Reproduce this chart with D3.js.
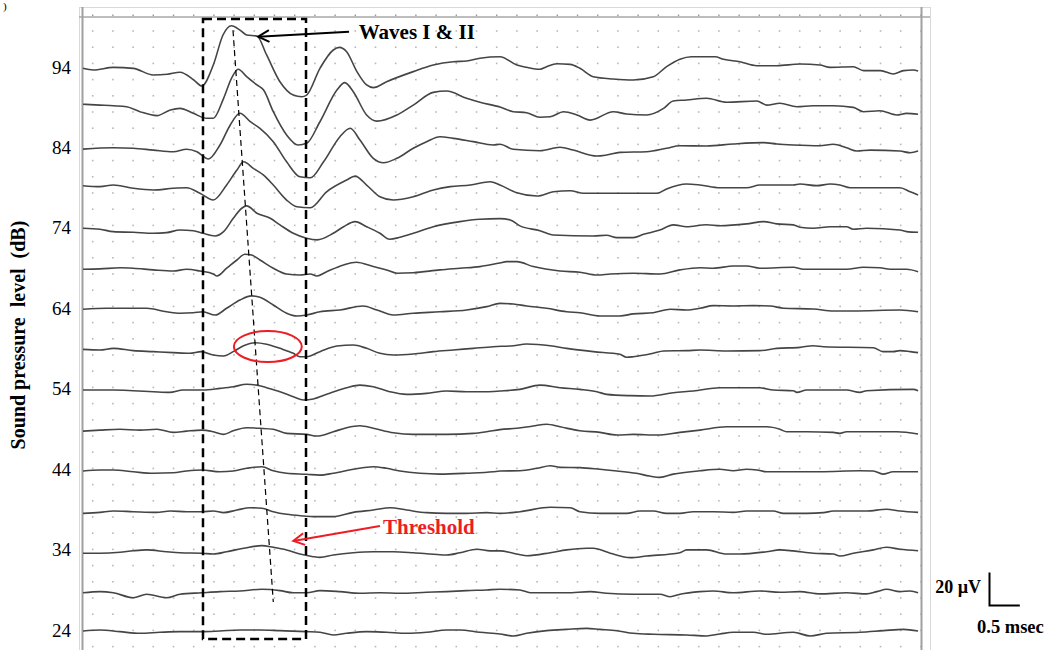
<!DOCTYPE html>
<html><head><meta charset="utf-8">
<script src="https://cdn.jsdelivr.net/npm/d3@7"></script>
<style>html,body{margin:0;padding:0;background:#fff;overflow:hidden}svg{display:block}</style>
</head><body>
<svg id="c" width="1048" height="650"></svg>
<script>
// ---- data: ABR traces, time in ms, amplitude in µV, one trace per sound pressure level (dB) ----
const levels = [94, 89, 84, 79, 74, 69, 64, 59, 54, 49, 44, 39, 34, 29, 24];
const tickLabels = [94, 84, 74, 64, 54, 44, 34, 24];
const trace94 = [[0,-0.2],[0.17,-1.2],[0.5,0.4],[0.83,-0.2],[1.16,-4.2],[1.39,-3.8],[1.6,-2.6],[1.83,-7.3],[1.96,-10.9],[2.15,1.8],[2.31,20],[2.45,25.6],[2.59,23],[2.7,20],[2.87,19.4],[3.03,7.9],[3.25,-8.3],[3.47,-16.4],[3.61,-17.4],[3.69,-16.4],[3.91,-0.2],[4.13,10.9],[4.23,12.5],[4.35,9.9],[4.52,-2.2],[4.68,-10.3],[4.79,-11.9],[5.01,-8.3],[5.45,-2.2],[5.78,1.8],[6.11,3.8],[6.33,4.2],[6.55,5.9],[6.88,6.8],[7.16,1.8],[7.32,0.4],[7.54,-0.8],[7.65,0.8],[7.82,2.6],[8.04,2.2],[8.2,-0.2],[8.42,-5.3],[8.75,-6.7],[9.08,-7.3],[9.41,-5.3],[9.63,0.8],[9.85,5.3],[10.04,6.8],[10.43,6.8],[10.57,5.3],[10.84,3.8],[11.12,1.4],[11.45,1.4],[11.83,2.4],[12.16,1.8],[12.33,0.4],[12.71,0.8],[12.88,-1.6],[13.16,-1.6],[13.37,-3.6],[13.54,-1.6],[13.7,-1.2],[13.78,-1.8]];
const trace89 = [[0,2.4],[0.28,1.9],[0.5,1.5],[0.72,0.9],[0.94,-2.1],[1.22,-4.5],[1.44,-1.1],[1.6,-0.1],[1.82,-3.1],[2.04,-6.1],[2.15,-6.1],[2.32,6],[2.45,18.1],[2.56,23.6],[2.7,19.1],[2.87,14.1],[2.98,11],[3.14,-2.1],[3.36,-16.2],[3.55,-22.3],[3.69,-21.3],[3.91,-8.2],[4.19,11],[4.32,15.5],[4.46,10],[4.68,-4.1],[4.85,-7.8],[5.18,-4.1],[5.45,1.9],[5.78,9.6],[6,10.4],[6.33,6],[6.55,3.6],[6.88,0.7],[7.1,-2.1],[7.32,-2.7],[7.54,-5.5],[7.71,-5.2],[7.93,-2.1],[8.15,-4.1],[8.37,-7.2],[8.75,-2.1],[8.97,-3.5],[9.3,-4.1],[9.58,-0.1],[9.74,4.4],[9.96,5],[10.29,6],[10.62,3.6],[11.12,4.4],[11.28,1.9],[11.5,3],[11.78,0.9],[12.05,1.5],[12.38,1.5],[12.71,0.5],[12.88,-2.1],[13.15,-1.5],[13.43,-4.1],[13.59,-3.1],[13.78,-3.7]];
const trace84 = [[0,-0.4],[0.5,0.4],[0.83,0.1],[1.16,-1],[1.49,-2],[1.71,-0.5],[1.88,-2],[2.07,-6.4],[2.26,2.1],[2.43,14.2],[2.59,21.3],[2.76,16.2],[2.92,12.2],[3.14,4.1],[3.36,-8.1],[3.58,-17.2],[3.75,-17.8],[3.97,-8.1],[4.24,7.1],[4.41,12.2],[4.57,5.1],[4.79,-6],[4.96,-8.7],[5.18,-6],[5.45,0.1],[5.67,4.1],[5.89,7.1],[6.11,6.1],[6.44,4.1],[6.77,2.1],[6.88,2.5],[7.1,-0.5],[7.54,-1.4],[7.87,0.7],[8.09,-1],[8.48,-4.6],[8.64,-4],[8.86,-2.4],[9.3,-2],[9.63,0.1],[9.85,1.6],[10.29,1.5],[10.73,2.7],[11.23,3.5],[11.45,2.7],[11.72,2.1],[12.16,1.6],[12.38,2.5],[12.6,0.4],[12.77,-1.6],[12.99,-1],[13.48,-1.6],[13.65,-2.6],[13.78,-1.6]];
const trace79 = [[0,1.8],[0.28,1.2],[0.5,2.2],[0.83,0.2],[1.16,-0.8],[1.49,0.2],[1.71,0.5],[1.93,-2.8],[2.15,-6.9],[2.37,2.2],[2.54,11.3],[2.65,16.3],[2.81,12.3],[2.98,8.2],[3.14,2.2],[3.36,-6.9],[3.53,-11],[3.75,-11.6],[4.02,-1.9],[4.35,5.2],[4.49,7.6],[4.68,2.2],[4.9,-4.9],[5.12,-6.9],[5.45,-4.9],[5.78,-0.8],[6.06,1.2],[6.39,2.2],[6.72,4.2],[6.88,2.2],[7.16,-2.5],[7.49,-4.5],[7.76,-1.9],[8.04,-1.3],[8.26,-2.8],[9.47,-2.8],[9.63,-0.2],[9.96,2.8],[10.18,2.2],[10.51,0.5],[10.95,0.5],[11.17,2.2],[11.72,2.2],[11.83,2.8],[12.11,1.8],[12.33,2.8],[12.49,2.2],[12.66,0.5],[13.48,0.5],[13.65,-1.9],[13.78,-3.9]];
const trace74 = [[0,0.4],[0.28,-0.2],[0.5,-1.7],[0.83,-2.1],[1.16,-2.7],[1.38,-2.3],[1.6,-0.7],[1.82,-1.1],[1.98,-2.7],[2.18,-4.3],[2.32,-1.7],[2.48,6.4],[2.62,12.5],[2.7,13.9],[2.87,9.5],[3.09,6.4],[3.25,2.4],[3.47,-2.7],[3.69,-5.7],[3.86,-6.7],[4.13,-2.7],[4.3,1.3],[4.49,4.4],[4.68,1.3],[4.9,-2.7],[5.06,-6.3],[5.23,-5.1],[5.45,-2.7],[5.78,1.3],[6.22,4.4],[6.55,5.8],[6.88,6.2],[7.05,5.4],[7.21,1.8],[7.54,-1.1],[7.76,-3.7],[8.42,-4.3],[8.64,-3.9],[8.81,-5.3],[9.08,-5.3],[9.25,-3.3],[9.52,-0.7],[9.74,2.4],[9.96,1.3],[10.29,2.5],[10.51,1.9],[10.95,3],[11.23,4.4],[11.45,3],[11.72,2.4],[11.83,1],[12.05,0.4],[12.33,1.3],[12.6,1.3],[12.71,-0.2],[12.93,0.4],[13.48,-0.7],[13.59,-1.7],[13.78,-2.1]];
const trace69 = [[0,-0.1],[0.28,0.1],[0.61,0.8],[0.83,0.5],[1.16,-0.5],[1.49,-1.2],[1.71,-0.1],[1.93,-1.2],[2.15,-3],[2.21,-4.2],[2.37,0.5],[2.54,5.5],[2.67,9],[2.78,8.5],[2.92,5.5],[3.14,0.5],[3.36,-3],[3.58,-3.6],[3.75,-3],[3.86,-4.2],[4.02,-1.6],[4.3,2.5],[4.51,4.1],[4.79,1.5],[5.01,-0.5],[5.18,-2.5],[5.45,-2.2],[5.89,-0.5],[6.22,0.5],[6.55,1.5],[6.88,3.7],[6.99,4.5],[7.16,4.5],[7.43,1.5],[7.87,-1.2],[8.2,-1.9],[8.48,-3.6],[8.7,-3],[9.08,-2.5],[9.52,-3],[9.85,-0.5],[10.18,0.8],[10.4,0.5],[10.73,1.9],[10.95,1.9],[11.17,0.5],[11.72,1.1],[11.89,-0.1],[12.6,-0.1],[12.88,1.1],[13.15,0.8],[13.32,-0.1],[13.59,-0.1],[13.78,-1.6]];
const trace64 = [[0,0],[0.39,0.6],[1.05,0.6],[1.38,-1.5],[1.6,-2.4],[1.82,-2.1],[1.98,-1.5],[2.18,-3.5],[2.37,0.6],[2.59,5.6],[2.78,8.1],[2.92,7.3],[3.14,2.6],[3.36,-2.4],[3.53,-4.1],[3.69,-3.5],[3.91,-1.5],[4.24,-0.4],[4.62,2],[4.85,-0.4],[5.12,-3.5],[5.45,-2.4],[5.89,-1.5],[6.33,-0.4],[6.66,1.6],[6.88,3.6],[7.1,3.2],[7.32,2],[7.65,0.6],[7.98,-1.5],[8.2,-2.1],[8.53,-4.1],[8.86,-4.1],[9.08,-2.8],[9.41,-2.1],[9.69,0],[9.96,-0.4],[10.18,0.6],[10.4,2.2],[10.73,2],[11.06,2.2],[11.34,2],[11.56,0.6],[12.05,0.2],[12.38,-1],[12.71,-1],[13.48,-0.4],[13.78,-1.5]];
const trace59 = [[0,0.1],[0.28,-0.3],[0.5,0.7],[0.83,-0.7],[1.16,-1.3],[1.49,-1.9],[1.76,-2.3],[1.95,-1.3],[2.15,-3.3],[2.32,-3.9],[2.48,-1.3],[2.65,2.3],[2.84,4.1],[3.03,3.2],[3.25,0.7],[3.47,-2.3],[3.58,-4.4],[3.69,-4.4],[3.91,-1.3],[4.19,2.1],[4.46,2.7],[4.68,0.7],[4.9,-2.3],[5.12,-3.3],[5.45,-2.7],[5.78,-1.3],[6.11,-0.3],[6.44,0.7],[6.77,1.7],[7.1,2.3],[7.32,3.3],[7.71,2.3],[7.98,0.7],[8.42,-1.3],[8.86,-2.9],[8.97,-4.7],[9.08,-4.4],[9.41,-2.3],[9.58,-0.9],[9.96,-0.7],[10.18,-0.3],[10.62,-0.9],[11.17,-0.7],[11.45,0.7],[11.83,1.3],[12.05,2.3],[12.22,1.7],[13.04,1.1],[13.2,-1.3],[13.37,-1.3],[13.48,-0.7],[13.65,-1.3],[13.78,-1.9]];
const trace54 = [[0,-0.2],[0.5,-0.2],[0.83,-0.6],[1.16,-1.2],[1.43,-1.6],[1.65,-0.2],[1.98,-0.2],[2.26,0.8],[2.48,1.8],[2.7,3.3],[2.87,2.8],[3.03,1.2],[3.25,-1.2],[3.47,-4.2],[3.64,-6.2],[3.8,-5.6],[4.02,-2.8],[4.35,1.2],[4.57,2.8],[4.79,1.8],[5.06,-1.2],[5.34,-2.8],[5.67,-2.2],[6,-0.8],[6.33,-1.2],[6.66,-1.2],[6.88,-0.8],[7.21,0.2],[7.54,2.8],[7.87,1.2],[8.2,0.2],[8.48,-1.2],[8.64,-2.8],[9.03,-3.6],[9.36,-3.8],[9.74,-1.8],[10.07,-0.8],[10.51,1.2],[11.17,1.2],[11.39,-0.2],[11.72,-0.6],[11.78,-1.6],[11.94,-0.2],[12.6,-0.2],[12.82,-1.6],[12.93,-0.6],[13.7,0.2],[13.78,-0.6]];
const trace49 = [[0,-0.7],[0.28,-0.1],[0.61,0.4],[0.94,-0.1],[1.22,0.4],[1.49,-1.5],[1.71,-0.7],[1.96,-0.1],[2.15,-1.1],[2.32,-2.7],[2.48,-0.5],[2.7,1.3],[2.92,1],[3.14,0.4],[3.36,-2.1],[3.69,-2.7],[3.86,-3.7],[4.13,-1.1],[4.35,1.3],[4.57,2.5],[4.79,1],[5.12,-1.7],[5.45,-2.7],[6,-2.7],[6.44,-2.1],[6.66,-1.1],[6.88,0.2],[7.16,1],[7.43,2.4],[7.65,3.4],[7.87,1.9],[8.2,-0.5],[8.53,-1.5],[8.81,-3.1],[9.08,-2.7],[9.47,-3.1],[9.85,-1.5],[10.18,-0.1],[10.62,1.9],[11.28,1.9],[11.5,0.4],[11.61,-1.1],[11.94,-1.1],[12.38,-1.5],[12.49,-2.1],[12.6,-1.1],[13.43,-1.1],[13.78,-2.5]];
const trace44 = [[0,-0.5],[0.28,0.1],[0.5,0.1],[0.83,-1],[1.16,-1.9],[1.49,-1.6],[1.71,-0.5],[1.96,0.1],[2.26,-1],[2.48,-0.5],[2.7,1.1],[2.95,2.1],[3.14,-0.4],[3.36,-1.9],[3.69,-2.5],[3.91,-3],[4.13,-1.9],[4.46,0.5],[4.79,2.1],[5.01,1.1],[5.23,-0.5],[5.56,-1.9],[5.89,-2.4],[6.33,-1.9],[6.77,-1],[6.88,-0.5],[7.21,-0.4],[7.49,1.1],[7.71,2.7],[7.87,1.7],[8.2,1.5],[8.53,0.5],[8.81,-0.5],[9.13,-1.9],[9.35,-3.6],[9.52,-4.4],[9.74,-2.4],[10.18,-0.4],[10.51,0.5],[10.73,-0.4],[10.95,0.5],[11.12,0.1],[11.28,-1],[12.16,-1],[12.82,-0.4],[13.04,-0.5],[13.2,-2.4],[13.37,-1],[13.78,-1]];
const trace39 = [[0,-1.8],[0.28,-1.2],[0.5,-0.4],[0.83,-0.8],[1.21,-1.2],[1.44,-0.4],[1.71,-0.8],[1.96,-0.8],[2.15,-0.4],[2.32,-1.4],[2.54,0.2],[2.76,1.6],[2.95,1.3],[3.14,-0.8],[3.36,-2.4],[3.64,-3.4],[3.8,-3.8],[4.13,-3.8],[4.46,-1.2],[4.79,0.2],[5.07,1.6],[5.34,0.2],[5.67,-1.4],[6,-1.8],[6.33,-1.8],[6.66,-1.4],[6.88,-1.8],[7.21,-0.8],[7.71,1.9],[8.04,1.6],[8.2,-0.8],[8.53,-1.8],[8.97,-1.8],[9.19,-0.4],[9.41,-0.4],[9.63,-1.8],[9.85,-1.8],[10.07,-0.8],[10.4,-0.8],[10.73,-1.2],[10.95,-0.4],[11.39,-0.4],[11.56,-1.8],[11.94,-1.8],[12.22,-1.4],[12.38,-0.4],[12.93,-0.4],[13.26,0.7],[13.48,-0.4],[13.78,-1.2]];
const trace34 = [[0,-1.6],[0.28,-1.6],[0.61,-1],[0.83,-0.1],[1.05,0.4],[1.38,-0.7],[1.6,-1.3],[1.96,-1.6],[2.15,-2.1],[2.37,-0.7],[2.65,1.4],[2.95,3],[3.14,2],[3.36,0.4],[3.58,-2.1],[3.8,-3.7],[3.91,-4.1],[4.13,-2.7],[4.46,-1.3],[4.79,-0.7],[5.12,-0.7],[5.45,-1.3],[5.78,-2.2],[6,-2.7],[6.22,-1.3],[6.5,0.8],[6.72,-0.2],[6.88,-0.2],[7.1,-1.6],[7.32,-3.1],[7.71,-1.3],[7.98,0.4],[8.31,1.4],[8.42,1.4],[8.7,-1.6],[9.03,-4.3],[9.3,-3.3],[9.85,-1.3],[9.96,0.4],[10.29,0.4],[10.62,-2.1],[10.84,-2.1],[11.28,-0.7],[11.5,0.4],[11.72,-0.2],[12.05,-1.6],[12.38,-2.1],[12.49,-3.3],[12.71,-1.6],[13.04,0.4],[13.26,2],[13.48,0.8],[13.78,-0.1]];
const trace29 = [[0,-1.2],[0.28,-0.5],[0.5,-1.2],[0.83,-4.2],[1.05,-2.1],[1.38,-4.2],[1.6,-2.1],[1.96,-1.2],[2.26,-0.5],[2.59,-0.1],[2.95,0.9],[3.25,0.1],[3.47,-1.2],[3.69,-1.2],[3.91,0.1],[4.24,-0.5],[4.57,-1.5],[4.9,-1.2],[5.23,-1.5],[5.67,-0.9],[6,-0.5],[6.33,0.1],[6.66,0.5],[6.88,0.9],[7.21,0.5],[7.38,-1.2],[7.98,-1.2],[8.37,-0.5],[8.64,-1.5],[9.08,-2.1],[9.52,-2.1],[9.69,-3.6],[9.85,-2.1],[10.18,-0.5],[10.4,-0.1],[10.73,-1.2],[11.17,-0.1],[11.5,-0.9],[11.83,-0.5],[12.16,-1.9],[12.6,-1.2],[12.93,-1.9],[13.1,-0.5],[13.26,0.9],[13.48,-0.5],[13.65,-0.1],[13.78,-1.2]];
const trace24 = [[0,0],[0.28,0.6],[0.61,-0.4],[0.94,-1.4],[1.27,-0.8],[1.6,-0.4],[1.96,-0.4],[2.26,0],[2.59,0.6],[2.92,0.6],[3.25,0.2],[3.69,-0.4],[3.91,-0.8],[4.13,-2.4],[4.35,-1.4],[4.68,-0.4],[5.01,-0.8],[5.34,-1.4],[5.67,-0.8],[6,0.6],[6.22,0.6],[6.55,-0.8],[6.88,-1.8],[7.1,-3],[7.32,-1.4],[7.65,0.2],[7.98,1],[8.31,1.6],[8.53,1],[8.81,0.2],[9.08,-1.4],[9.41,-2],[9.96,-2.4],[10.29,-3],[10.51,-1.8],[10.73,-0.8],[11.06,-0.8],[11.28,-2],[11.72,-0.8],[12,-3],[12.27,-1.4],[12.82,-0.8],[13.21,0.2],[13.54,1],[13.78,0]];
const traces = [trace94, trace89, trace84, trace79, trace74, trace69, trace64, trace59, trace54, trace49, trace44, trace39, trace34, trace29, trace24];

// annotation anchors in data units (ms, dB)
const boxTime = [1.98, 3.68];
const boxLevel = [23.0, 100.1];
const latencyLine = [[2.475, 98.7], [3.14, 27.6]];
const thresholdCircle = {t: 3.05, level: 59.37, rt: 0.56, rl: 1.93};
const wavesArrow = {tip: [2.89, 97.9], tail: [4.39, 98.5], label: "Waves I & II", at: [4.55, 97.55]};
const thresholdArrow = {tip: [3.47, 35.2], tail: [4.9, 37.05], label: "Threshold", at: [4.95, 36.06]};
const scaleBar = {uV: 20, ms: 0.5, uVLabel: "20 µV", msLabel: "0.5 msec"};
const yTitle = "Sound pressure  level  (dB)";

// ---- scales ----
const svg = d3.select("#c");
const x = d3.scaleLinear().domain([0, 13.8]).range([83, 919.3]);
const y = d3.scaleLinear().domain([24, 94]).range([631, 68]);
const amp = d3.scaleLinear().domain([0, 20]).range([0, -33]);
const serif = "'Liberation Serif','Times New Roman',serif";

// grid dots
const gridT = d3.range(42).map(k => 0.16 + k / 3);
const gridL = d3.range(39).map(k => y.invert(31 + 16.2 * k));
const gdots = svg.append("g").attr("fill", "#b8b8b8");
gridL.forEach(l => gridT.forEach(t => {
  gdots.append("rect").attr("x", x(t) - 0.8).attr("y", y(l) - 0.8).attr("width", 1.6).attr("height", 1.6);
}));
const tdots = svg.append("g").attr("fill", "#9a9a9a");
gridT.forEach(t => tdots.append("rect").attr("x", x(t) - 0.7).attr("y", 14.5).attr("width", 1.4).attr("height", 1.6));

// frame
svg.append("rect").attr("x", 79.5).attr("y", 7.5).attr("width", 851).attr("height", 660)
  .attr("fill", "none").attr("stroke", "#d9d9d9").attr("stroke-width", 1);
svg.append("line").attr("x1", 79).attr("x2", 930).attr("y1", 17).attr("y2", 17).attr("stroke", "#a8a8a8").attr("stroke-width", 1.5);
svg.append("line").attr("x1", 82.5).attr("x2", 82.5).attr("y1", 7).attr("y2", 650).attr("stroke", "#a0a0a0").attr("stroke-width", 2);
svg.append("line").attr("x1", 921.5).attr("x2", 921.5).attr("y1", 7).attr("y2", 650).attr("stroke", "#a0a0a0").attr("stroke-width", 2);

// traces
const tg = svg.append("g").attr("fill", "none").attr("stroke", "#454545").attr("stroke-width", 1.6).attr("stroke-linejoin", "round");
traces.forEach((tr, i) => {
  const lv = levels[i];
  const line = d3.line().x(d => x(d[0])).y(d => y(lv) + amp(d[1])).curve(d3.curveMonotoneX);
  tg.append("path").attr("d", line(tr));
});

// y tick labels
svg.append("g").selectAll("text").data(tickLabels).join("text")
  .attr("x", 71).attr("y", d => y(d) + 5.5).attr("text-anchor", "end")
  .attr("font-family", serif).attr("font-size", 19).attr("fill", "#000").text(d => d);

// y title
svg.append("text").attr("transform", "translate(25,335) rotate(-90)").attr("text-anchor", "middle")
  .attr("font-family", serif).attr("font-weight", "bold").attr("font-size", 20)
  .style("white-space", "pre").attr("fill", "#000").text(yTitle);

// dashed box
svg.append("rect").attr("x", x(boxTime[0])).attr("y", y(boxLevel[1]))
  .attr("width", x(boxTime[1]) - x(boxTime[0])).attr("height", y(boxLevel[0]) - y(boxLevel[1]))
  .attr("fill", "none").attr("stroke", "#000").attr("stroke-width", 2.5).attr("stroke-dasharray", "9,5");

// latency dashed line
svg.append("line").attr("x1", x(latencyLine[0][0])).attr("y1", y(latencyLine[0][1]))
  .attr("x2", x(latencyLine[1][0])).attr("y2", y(latencyLine[1][1]))
  .attr("stroke", "#000").attr("stroke-width", 1.2).attr("stroke-dasharray", "6,4");

// threshold ellipse
svg.append("ellipse").attr("cx", x(thresholdCircle.t)).attr("cy", y(thresholdCircle.level))
  .attr("rx", x(thresholdCircle.rt) - x(0)).attr("ry", y(0) - y(thresholdCircle.rl))
  .attr("fill", "none").attr("stroke", "#ee1c24").attr("stroke-width", 2);

function arrow(a, color) {
  const tx = x(a.tip[0]), ty = y(a.tip[1]), ux = x(a.tail[0]), uy = y(a.tail[1]);
  svg.append("line").attr("x1", ux).attr("y1", uy).attr("x2", tx).attr("y2", ty)
    .attr("stroke", color).attr("stroke-width", 2);
  const ang = Math.atan2(uy - ty, ux - tx), L = 12.5, da = 28 * Math.PI / 180;
  const p1 = [tx + L * Math.cos(ang + da), ty + L * Math.sin(ang + da)];
  const p2 = [tx + L * Math.cos(ang - da), ty + L * Math.sin(ang - da)];
  svg.append("path").attr("d", `M${p1}L${tx},${ty}L${p2}`).attr("fill", "none")
    .attr("stroke", color).attr("stroke-width", 2);
  svg.append("text").attr("x", x(a.at[0])).attr("y", y(a.at[1]))
    .attr("font-family", serif).attr("font-weight", "bold").attr("font-size", 21)
    .style("white-space", "pre").attr("fill", color).text(a.label);
}
arrow(wavesArrow, "#000");
arrow(thresholdArrow, "#ee1c24");

// scale bar
const sbx = 989.5, sby = 605.5;
const vLen = amp(0) - amp(scaleBar.uV), hLen = x(scaleBar.ms) - x(0);
svg.append("path").attr("d", `M${sbx},${sby - vLen}V${sby}H${sbx + hLen}`)
  .attr("fill", "none").attr("stroke", "#000").attr("stroke-width", 2);
svg.append("text").attr("x", 981).attr("y", 593).attr("text-anchor", "end")
  .attr("font-family", serif).attr("font-weight", "bold").attr("font-size", 18).text(scaleBar.uVLabel);
svg.append("text").attr("x", 977).attr("y", 632.5)
  .attr("font-family", serif).attr("font-weight", "bold").attr("font-size", 18.5).text(scaleBar.msLabel);

// panel letter fragment (top-left corner)
svg.append("text").attr("x", 3).attr("y", 10).attr("font-family", serif).attr("font-size", 11).text(")");
</script>
</body></html>
